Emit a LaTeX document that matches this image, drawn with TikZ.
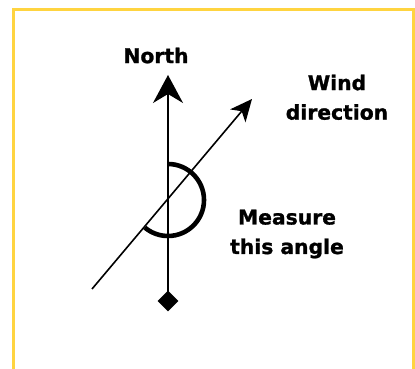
\documentclass[tikz,border=0pt]{standalone}
\usepackage{fontspec}
\newfontfamily\lblfont{DejaVu Sans}[BoldFeatures={FakeBold=1.2}]
\usetikzlibrary{arrows.meta,shapes.geometric}
\definecolor{frameyellow}{RGB}{255,212,64}
\tikzset{
  lbl/.style={inner sep=0pt, font=\lblfont\fontsize{20.3}{29.5}\selectfont\bfseries, align=center},
  ray/.style={line width=1.6pt},
}
\begin{document}
\begin{tikzpicture}[x=1pt,y=1pt]
\useasboundingbox (0,0) rectangle (415,369);
\clip (0,0) rectangle (415,369);
\fill[white] (0,0) rectangle (415,369);
\draw[frameyellow, line width=2.6pt] (13.5,-10) -- (13.5,359.5) -- (413.3,359.5) -- (413.3,-10);
% north axis
\coordinate (ntip) at (168,294);
\node[diamond, fill=black, minimum width=21pt, minimum height=21pt, inner sep=0pt] (foot) at (168,68) {};
\draw[ray, -{Stealth[length=28pt,width=30pt,inset=9pt]}] (foot.center) -- (ntip);
% wind line
\coordinate (wtail) at (92,80);
\coordinate (wtip) at (252,270);
\draw[ray, -{Stealth[length=22pt,width=20pt,inset=6pt]}] (wtail) -- (wtip);
% angle arc
\coordinate (c) at (168,169);
\draw[line width=4.6pt] ([shift={(90:36)}]c) arc[start angle=90, end angle=-130, radius=36];
% labels
\node[lbl, anchor=north] (north) at (156,321.5) {North};
\node[lbl, anchor=north] (wind) at (337,294.5) {Wind\\direction};
\node[lbl, anchor=north] (meas) at (287,159.5) {Measure\\this angle};
\end{tikzpicture}
\end{document}
